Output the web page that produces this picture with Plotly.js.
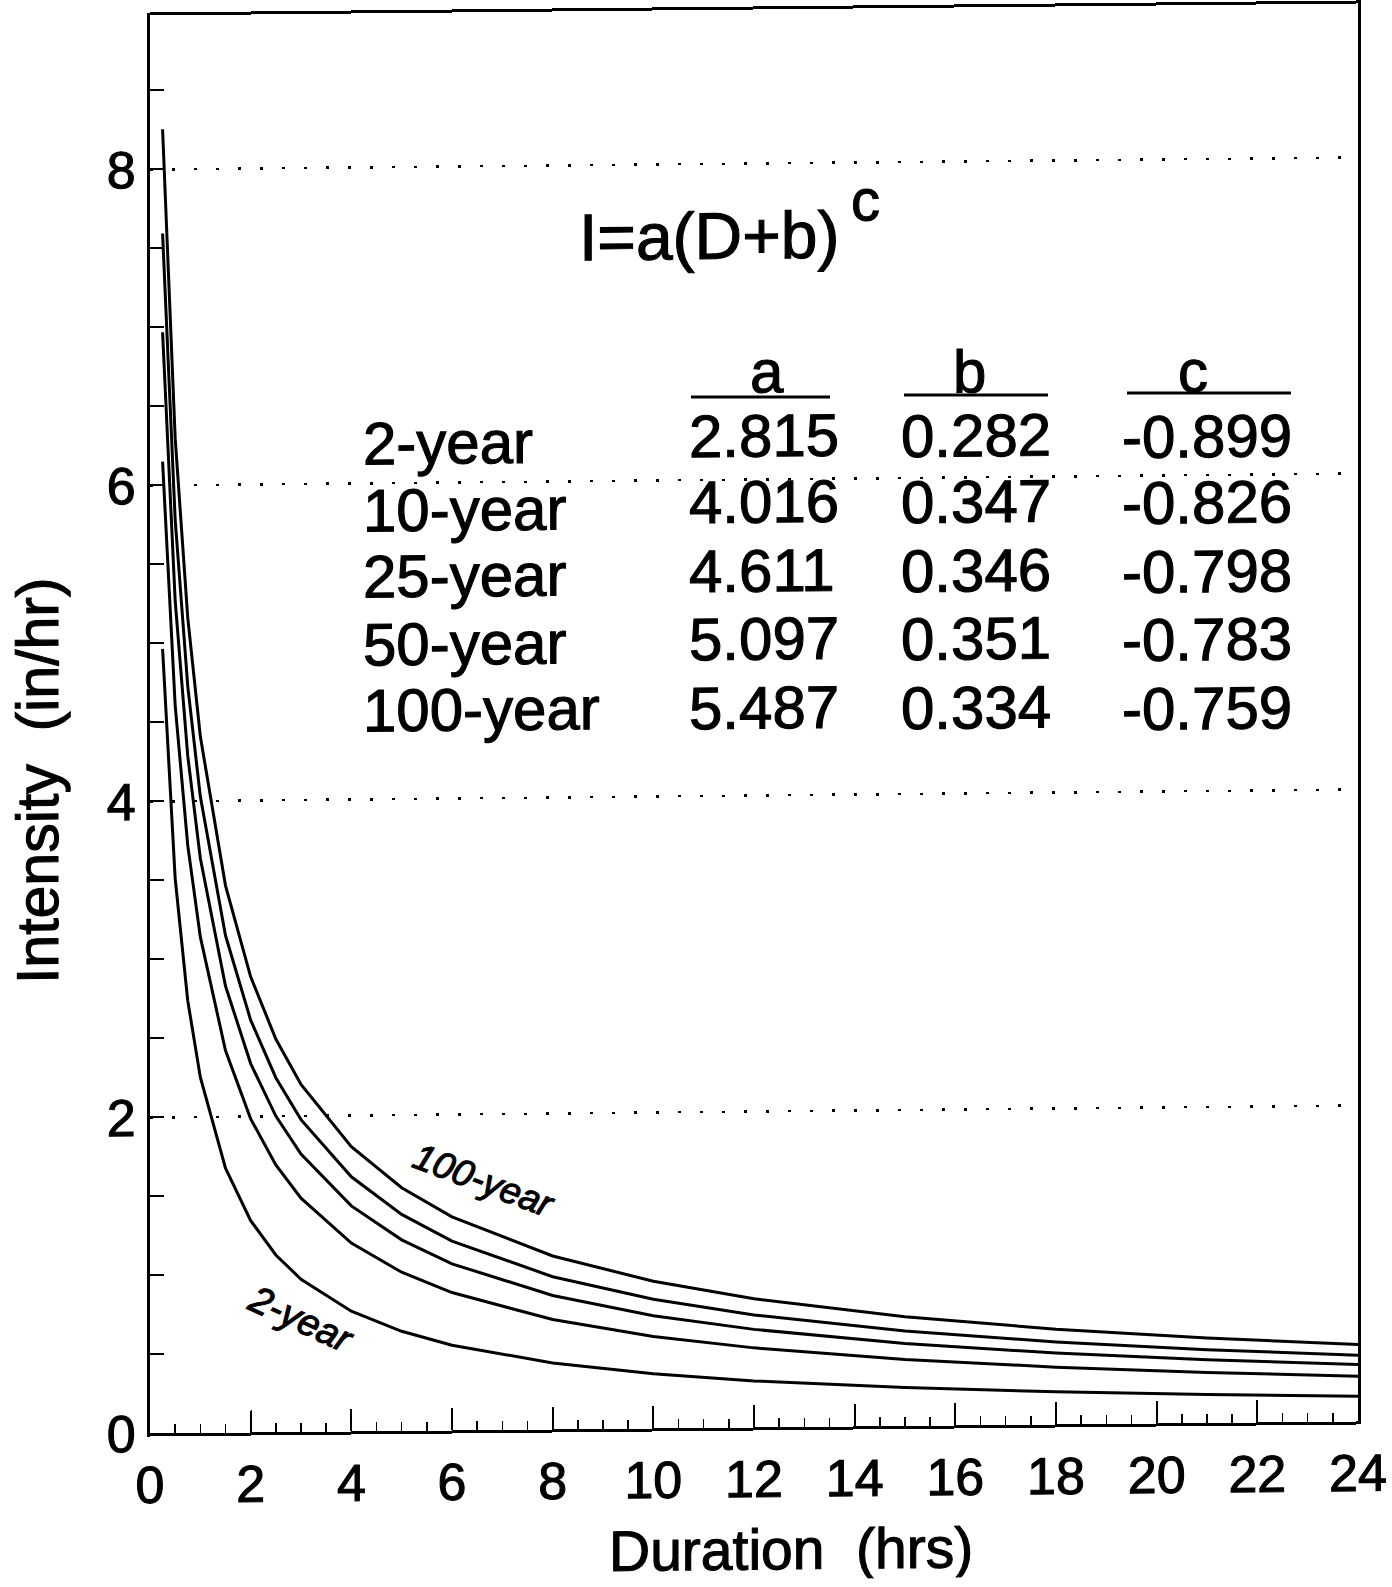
<!DOCTYPE html>
<html><head><meta charset="utf-8">
<script src="https://cdn.plot.ly/plotly-3.0.1.min.js"></script>
<style>
html,body{margin:0;padding:0;background:#fff;overflow:hidden}
#chart{width:1392px;height:1587px;transform:skewY(-0.57deg);transform-origin:0 0;}
#chart svg text{stroke:#000;stroke-width:1.1px;paint-order:stroke;}
</style>
</head><body><div id="chart"></div>
<script>
// Duration (hrs) and intensity (in/hr)
const durations = [0.25,0.5,0.75,1,1.5,2,2.5,3,4,5,6,8,10,12,15,18,21,24];
const int2yr   = [4.965,3.512,2.737,2.252,1.675,1.341,1.122,0.967,0.761,0.631,0.540,0.421,0.346,0.295,0.243,0.207,0.180,0.160];
const int10yr  = [6.150,4.607,3.720,3.140,2.419,1.985,1.692,1.480,1.193,1.005,0.873,0.696,0.583,0.504,0.421,0.363,0.320,0.287];
const int25yr  = [6.969,5.269,4.286,3.638,2.827,2.335,2.001,1.759,1.428,1.210,1.055,0.848,0.714,0.621,0.522,0.452,0.401,0.361];
const int50yr  = [7.594,5.783,4.728,4.028,3.147,2.610,2.244,1.977,1.612,1.371,1.199,0.967,0.818,0.712,0.601,0.522,0.464,0.419];
const int100yr = [8.254,6.298,5.161,4.409,3.463,2.884,2.489,2.200,1.803,1.540,1.352,1.098,0.932,0.815,0.691,0.603,0.538,0.487];

// Table of coefficients
const periods = ['2-year','10-year','25-year','50-year','100-year'];
const coefA = ['2.815','4.016','4.611','5.097','5.487'];
const coefB = ['0.282','0.347','0.346','0.351','0.334'];
const coefC = ['-0.899','-0.826','-0.798','-0.783','-0.759'];
const coefHeaders = ['a','b','c'];

// Tick labels and titles
const xTickVals = [0,2,4,6,8,10,12,14,16,18,20,22,24];
const xTickText = ['0','2','4','6','8','10','12','14','16','18','20','22','24'];
const yTickVals = [0,2,4,6,8];
const yTickText = ['0','2','4','6','8'];
const xTitle = 'Duration\u00A0 (hrs)';
const yTitle = 'Intensity\u00A0 (in/hr)';

const FONT = 'Liberation Sans, Arial, Helvetica, sans-serif';
const W = 1392, H = 1587;
const M = {l:150, r:34, t:17, b:152};
const L = M.l, R = W - M.r, T = M.t, B = H - M.b;
const YMAX = (B - T) / 158;
const SK = Math.tan(0.57*Math.PI/180);
function px(X){ return (X - L)/(R - L); }
function py(X, Y){ return (B - (Y + X*SK))/(B - T); }

const series = [int2yr, int10yr, int25yr, int50yr, int100yr];
const traces = series.map((s, i) => ({
  x: durations, y: s, type: 'scatter', mode: 'lines', name: periods[i],
  line: {color: '#000', width: 3}, hoverinfo: 'skip'
}));

const ann = [];
function txt(text, X, Y, size, xanchor, extra){
  ann.push(Object.assign({text: text, xref:'paper', yref:'paper', x: px(X), y: py(X, Y),
    xanchor: xanchor || 'center', yanchor: 'middle', showarrow: false,
    font: {family: FONT, size: size, color: '#000'}}, extra || {}));
}
// axis titles
txt(xTitle, 791, 1549, 57, 'center');
txt(yTitle, 38, 781, 59, 'center', {textangle: -90});
// formula
txt('I=a(D+b)', 709, 236, 66, 'center');
txt('c', 865, 200, 58, 'center');
// headers
const headerX = [767, 969, 1193];
coefHeaders.forEach((h, i) => txt(h, headerX[i], 372, 60, 'center'));
// rows
const labelY = [444, 511, 577, 645, 711];
const rowY = [437, 503, 572, 640, 709];
periods.forEach((p, i) => {
  txt(p, 361, labelY[i], 60, 'left');
  txt(coefA[i], 687, rowY[i], 60, 'left');
  txt(coefB[i], 899, rowY[i], 60, 'left');
  txt(coefC[i], 1120, rowY[i], 60, 'left');
});
// curve labels
txt('<i>100-year</i>', 484, 1181, 37, 'center', {textangle: 21});
txt('<i>2-year</i>', 301, 1319, 38, 'center', {textangle: 25});

// header underlines
const ul = [[691, 830, 397], [904, 1048, 395], [1127, 1291, 393]];
const shapes = ul.map(u => ({type:'line', xref:'paper', yref:'paper',
  x0: px(u[0]), y0: py(u[0], u[2]), x1: px(u[1]), y1: py(u[1], u[2]),
  line: {color:'#000', width: 3}}));

const layout = {
  width: W, height: H, margin: M,
  paper_bgcolor: '#fff', plot_bgcolor: '#fff',
  font: {family: FONT, color: '#000'},
  showlegend: false,
  xaxis: {
    range: [0, 24], tickmode: 'array', tickvals: xTickVals, ticktext: xTickText,
    ticks: 'inside', ticklen: 22, tickwidth: 2, tickcolor: '#000',
    minor: {dtick: 0.5, tick0: 0, ticks: 'inside', ticklen: 9, tickwidth: 1.5, tickcolor: '#000', showgrid: false},
    showline: true, linewidth: 3, linecolor: '#000', mirror: true,
    showgrid: false, zeroline: false,
    tickfont: {family: FONT, size: 52, color: '#000'}, ticklabelstandoff: 4
  },
  yaxis: {
    range: [0, YMAX], tickmode: 'array', tickvals: yTickVals, ticktext: yTickText,
    ticks: 'inside', ticklen: 14, tickwidth: 2, tickcolor: '#000',
    minor: {dtick: 0.5, tick0: 0, ticks: 'inside', ticklen: 14, tickwidth: 2, tickcolor: '#000', showgrid: false},
    showline: true, linewidth: 3, linecolor: '#000', mirror: true,
    showgrid: true, gridcolor: '#000', gridwidth: 2.5, griddash: '3px,19px',
    zeroline: false,
    tickfont: {family: FONT, size: 52, color: '#000'}, ticklabelstandoff: 1
  },
  annotations: ann,
  shapes: shapes
};

Plotly.newPlot('chart', traces, layout, {staticPlot: true, displayModeBar: false});
</script>
</body></html>
